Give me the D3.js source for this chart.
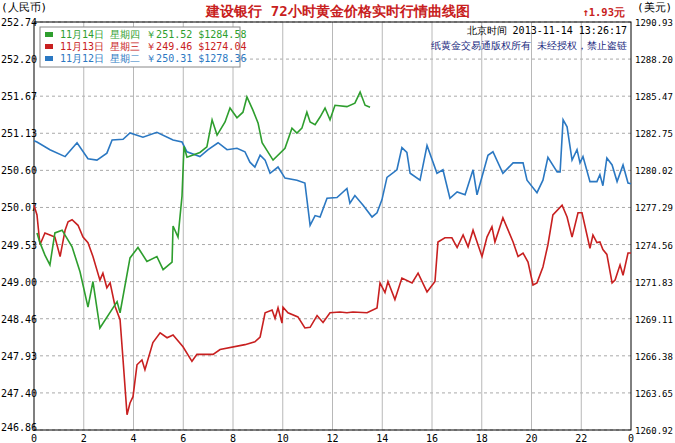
<!DOCTYPE html>
<html><head><meta charset="utf-8">
<script src="https://cdn.jsdelivr.net/npm/d3@7"></script>
<style>body{margin:0;background:#fff}text{font-family:"DejaVu Sans Mono",monospace}</style>
</head><body><svg id="c" width="675" height="443"></svg>
<script>
const leftTicks=[252.74,252.20,251.67,251.13,250.60,250.07,249.53,249.00,248.46,247.93,247.40,246.86];
const rightTicks=["1290.93","1288.20","1285.47","1282.75","1280.02","1277.29","1274.56","1271.83","1269.11","1266.38","1263.65","1260.92"];
const xTickLabels=["0","2","4","6","8","10","12","14","16","18","20","22","0"];
const seriesNames=["11月14日 星期四 ￥251.52 $1284.58","11月13日 星期三 ￥249.46 $1274.04","11月12日 星期二 ￥250.31 $1278.36"];
const seriesColors=["#2e9e2e","#c82020","#2b78c2"];
const green=[[.12,249.70],[.24,249.56],[.44,249.38],[.64,249.24],[.84,249.70],[1.13,249.74],[1.53,249.50],[1.85,249.14],[2.17,248.63],[2.37,249.00],[2.65,248.33],[3.34,248.71],[3.46,248.55],[3.86,249.34],[4.18,249.49],[4.54,249.29],[4.94,249.36],[5.19,249.17],[5.55,249.28],[5.59,249.80],[5.79,249.64],[5.95,250.23],[6.03,250.95],[6.15,250.79],[6.67,250.86],[6.95,250.94],[7.16,251.33],[7.36,251.11],[7.68,251.30],[7.88,251.50],[8.16,251.36],[8.40,251.44],[8.56,251.66],[8.80,251.47],[9.01,251.28],[9.17,251.00],[9.61,250.75],[10.09,250.92],[10.37,251.21],[10.57,251.14],[10.77,251.21],[10.97,251.44],[11.10,251.30],[11.30,251.26],[11.50,251.37],[11.70,251.50],[11.90,251.33],[12.10,251.54],[12.58,251.52],[12.90,251.57],[13.11,251.73],[13.31,251.54],[13.51,251.51]];
const red=[[0,250.10],[.12,249.96],[.24,249.53],[.44,249.70],[.64,249.67],[.84,249.64],[1.05,249.36],[1.25,249.74],[1.37,249.86],[1.53,249.89],[1.77,249.81],[1.97,249.64],[2.17,249.56],[2.37,249.36],[2.65,249.02],[2.77,249.12],[2.93,248.91],[3.06,248.98],[3.26,248.64],[3.46,248.45],[3.58,247.87],[3.74,247.08],[3.86,247.25],[3.98,247.34],[4.14,247.80],[4.34,247.87],[4.46,247.73],[4.78,248.12],[5.07,248.26],[5.35,248.19],[5.59,248.23],[5.99,248.06],[6.35,247.85],[6.55,247.95],[7.20,247.95],[7.48,248.02],[8.48,248.09],[8.88,248.13],[9.09,248.20],[9.29,248.55],[9.57,248.59],[9.69,248.47],[9.81,248.62],[9.97,248.40],[10.01,248.63],[10.21,248.55],[10.61,248.49],[10.89,248.33],[11.10,248.34],[11.38,248.51],[11.62,248.41],[11.90,248.55],[12.30,248.56],[12.58,248.55],[12.82,248.56],[13.39,248.55],[13.79,248.62],[13.91,248.98],[14.11,248.84],[14.23,249.00],[14.51,248.74],[14.79,249.05],[15.20,248.98],[15.44,249.12],[15.80,248.85],[16.12,249.00],[16.24,249.57],[16.52,249.63],[16.80,249.63],[17.01,249.49],[17.25,249.67],[17.45,249.50],[17.65,249.74],[18.01,249.36],[18.21,249.64],[18.41,249.79],[18.53,249.57],[18.85,249.92],[19.26,249.57],[19.46,249.36],[19.66,249.41],[19.86,249.28],[20.06,248.95],[20.22,248.98],[20.46,249.21],[20.66,249.53],[20.86,249.96],[21.23,250.10],[21.43,249.93],[21.63,249.64],[21.87,249.99],[22.03,249.99],[22.35,249.48],[22.47,249.67],[22.63,249.56],[22.75,249.57],[22.87,249.46],[23.03,249.39],[23.24,248.98],[23.36,249.02],[23.56,249.24],[23.68,249.09],[23.88,249.41],[24,249.41]];
const blue=[[0,251.03],[.12,251.01],[.64,250.90],[1.25,250.80],[1.73,251.00],[2.17,250.77],[2.53,250.75],[2.93,250.85],[3.14,251.04],[3.58,251.05],[3.86,251.14],[4.38,251.08],[4.94,251.15],[5.59,251.04],[5.95,251.01],[6.15,250.87],[6.67,250.80],[7.00,250.90],[7.40,251.00],[7.76,250.90],[8.16,250.92],[8.48,250.87],[8.68,250.72],[8.88,250.65],[9.09,250.82],[9.29,250.75],[9.49,250.56],[9.81,250.65],[10.09,250.49],[10.57,250.46],[10.89,250.42],[11.10,249.81],[11.30,249.95],[11.50,249.93],[11.78,250.20],[12.18,250.21],[12.58,250.34],[12.70,250.13],[12.90,250.24],[13.23,250.10],[13.59,249.93],[13.79,249.99],[13.99,250.18],[14.19,250.50],[14.59,250.61],[14.79,250.93],[14.99,250.86],[15.12,250.56],[15.52,250.46],[15.80,250.96],[16.20,250.56],[16.44,250.61],[16.72,250.20],[17.01,250.29],[17.33,250.25],[17.65,250.61],[17.81,250.25],[18.25,250.82],[18.45,250.87],[18.85,250.56],[19.26,250.71],[19.66,250.71],[19.82,250.46],[20.22,250.28],[20.46,250.46],[20.66,250.79],[21.03,250.58],[21.15,250.58],[21.27,251.33],[21.43,251.23],[21.63,250.75],[21.83,250.90],[21.95,250.71],[22.07,250.80],[22.35,250.44],[22.63,250.44],[22.75,250.54],[22.87,250.38],[23.03,250.78],[23.24,250.68],[23.44,250.44],[23.68,250.68],[23.88,250.42],[24,250.41]];

const svg=d3.select("#c");
const L=34,R=631,T=22,B=430;
const x=d3.scaleLinear().domain([0,24]).range([L,R]);
const y=d3.scaleLinear().domain([246.86,252.74]).range([B,T]);
const yi=d3.scaleLinear().domain([0,leftTicks.length-1]).range([T,B]);
svg.append("g").selectAll("line").data(leftTicks).join("line")
 .attr("x1",L).attr("x2",R).attr("y1",(d,i)=>yi(i)).attr("y2",(d,i)=>yi(i))
 .attr("stroke","#aaa").attr("stroke-dasharray","3,3");
svg.append("g").selectAll("line").data(xTickLabels.slice(1,-1)).join("line")
 .attr("x1",(d,i)=>x((i+1)*2)).attr("x2",(d,i)=>x((i+1)*2)).attr("y1",T).attr("y2",B).attr("stroke","#b8b8b8");
svg.append("rect").attr("x",L).attr("y",T).attr("width",R-L).attr("height",B-T).attr("fill","none").attr("stroke","#000");
svg.append("g").selectAll("text").data(leftTicks).join("text")
 .attr("x",1).attr("y",(d,i)=>yi(i)+(i==leftTicks.length-1?1:4)).attr("font-size",10).text(d=>d.toFixed(2));
svg.append("g").selectAll("text").data(rightTicks).join("text")
 .attr("x",635).attr("y",(d,i)=>yi(i)+4).attr("font-size",9).text(d=>d);
svg.append("g").selectAll("text").data(xTickLabels).join("text")
 .attr("x",(d,i)=>x(i*2)).attr("y",442).attr("text-anchor","middle").attr("font-size",10).text(d=>d);
const line=d3.line().x(d=>x(d[0])).y(d=>y(d[1]));
[[blue,2],[red,1],[green,0]].forEach(([s,c])=>{
 svg.append("path").datum(s).attr("d",line).attr("fill","none").attr("stroke",seriesColors[c]).attr("stroke-width",1.6);
});
const lg=svg.append("g");
lg.append("rect").attr("x",40).attr("y",27).attr("width",200).attr("height",40).attr("fill","#fff").attr("stroke","#888");
seriesNames.forEach((n,i)=>{
 lg.append("rect").attr("x",45).attr("y",32+i*12).attr("width",8).attr("height",5).attr("fill",seriesColors[i]);
 lg.append("text").attr("x",60).attr("y",38+i*12).attr("font-size",10).attr("fill",seriesColors[i]).attr("font-family","Noto Sans CJK SC").text(n);
});
svg.append("text").attr("x",1).attr("y",11).attr("font-size",11).attr("font-family","Noto Sans CJK SC").text("(人民币)");
svg.append("text").attr("x",637).attr("y",11).attr("font-size",11).attr("font-family","Noto Sans CJK SC").text("(美元)");
svg.append("text").attr("x",338).attr("y",16).attr("text-anchor","middle").attr("font-size",14).attr("font-weight","bold").attr("fill","#c82020").attr("font-family","Noto Sans CJK SC").text("建设银行  72小时黄金价格实时行情曲线图");
svg.append("text").attr("x",625).attr("y",16).attr("text-anchor","end").attr("font-size",10.5).attr("font-weight","bold").attr("fill","#c82020").attr("font-family","Noto Sans CJK SC").text("↑1.93元");
svg.append("text").attr("x",627).attr("y",34).attr("text-anchor","end").attr("font-size",10).attr("font-family","Noto Sans CJK SC").text("北京时间 2013-11-14 13:26:17");
svg.append("text").attr("x",627).attr("y",49).attr("text-anchor","end").attr("font-size",10).attr("fill","#1a2a80").attr("font-family","Noto Sans CJK SC").text("纸黄金交易通版权所有  未经授权，禁止盗链");
</script></body></html>
